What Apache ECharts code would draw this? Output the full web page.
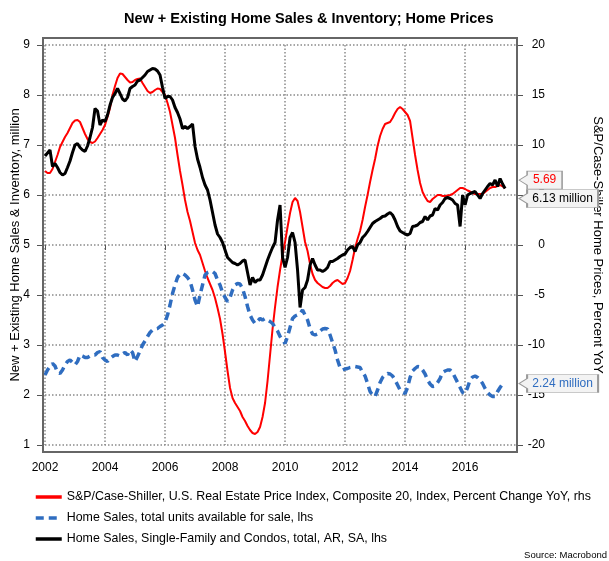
<!DOCTYPE html>
<html>
<head>
<meta charset="utf-8">
<title>Home Sales, Inventory and Home Prices</title>
<script src="https://cdn.jsdelivr.net/npm/echarts@6/dist/echarts.min.js"></script>
<style>
    html, body { margin: 0; padding: 0; background: #fff; }
    #home_sales { width: 609px; height: 561px; }
</style>
</head>
<body>
<div id="home_sales"></div>
<script>

// Chart data (monthly, Jan 2002 - May 2017)
// ------------------------------

var startYear = 2002;

// S&P/Case-Shiller 20 city, percent change YoY (rhs)
var priceYoY = [
    7.4, 7.2, 7.2, 7.6, 8.3, 9.0, 9.8, 10.3, 10.8, 11.2, 11.7, 12.2,          // 2002
    12.45, 12.5, 12.3, 11.7, 11.1, 10.6, 10.3, 10.2, 10.35, 10.7, 11.1, 11.5, // 2003
    12.0, 12.8, 13.7, 15.0, 15.9, 16.7, 17.15, 17.1, 16.8, 16.5, 16.25, 16.3, // 2004
    16.5, 16.6, 16.65, 16.2, 15.8, 15.4, 15.2, 15.3, 15.5, 15.65, 15.6, 15.3, // 2005
    15.0, 14.2, 13.3, 12.0, 10.7, 9.0, 7.4, 6.0, 4.5, 3.3, 2.4, 1.3,          // 2006
    0.2, -0.5, -1.0, -1.8, -2.6, -3.3, -3.9, -4.5, -5.3, -6.3, -7.4, -8.9,    // 2007
    -10.7, -12.6, -14.3, -15.3, -15.8, -16.2, -16.6, -17.2, -17.6, -18.1, -18.5, -18.8, // 2008
    -18.9, -18.7, -18.2, -17.2, -15.8, -13.6, -11.0, -8.4, -6.2, -4.2, -2.5, -1.0,      // 2009
    0.3, 1.8, 3.2, 4.3, 4.7, 4.4, 3.3, 1.8, 0.3, -0.6, -1.9, -2.9,            // 2010
    -3.5, -3.8, -4.0, -4.2, -4.3, -4.3, -4.1, -3.8, -3.6, -3.5, -3.7, -3.9,   // 2011
    -3.8, -3.3, -2.6, -1.5, -0.3, 0.6, 1.4, 2.5, 3.8, 5.0, 6.3, 7.5,          // 2012
    8.6, 9.9, 10.9, 11.6, 12.1, 12.2, 12.3, 12.7, 13.2, 13.6, 13.8, 13.6,     // 2013
    13.3, 13.0, 12.4, 10.7, 9.0, 7.5, 6.2, 5.3, 4.8, 4.4, 4.3, 4.6,           // 2014
    4.8, 5.0, 5.0, 4.9, 4.9, 4.95, 5.0, 5.1, 5.3, 5.5, 5.7, 5.7,              // 2015
    5.6, 5.45, 5.35, 5.2, 5.1, 5.1, 5.1, 5.1, 5.3, 5.5, 5.7, 5.8,             // 2016
    5.8, 5.9, 6.0, 5.85, 5.69                                                 // 2017
];

// Home sales, total units available for sale, million (lhs)
var inventory = [
    2.4, 2.5, 2.57, 2.63, 2.58, 2.45, 2.43, 2.5, 2.6, 2.67, 2.7, 2.65,        // 2002
    2.6, 2.67, 2.8, 2.78, 2.75, 2.75, 2.78, 2.8, 2.8, 2.85, 2.87, 2.75,       // 2003
    2.7, 2.67, 2.73, 2.77, 2.8, 2.8, 2.78, 2.82, 2.85, 2.8, 2.9, 2.85,        // 2004
    2.67, 2.77, 2.88, 3.0, 3.08, 3.17, 3.25, 3.3, 3.32, 3.33, 3.37, 3.4,      // 2005
    3.45, 3.6, 3.8, 4.03, 4.2, 4.35, 4.42, 4.43, 4.4, 4.35, 4.28, 4.1,        // 2006
    3.9, 3.77, 4.0, 4.2, 4.4, 4.45, 4.47, 4.47, 4.43, 4.3, 4.2, 4.05,         // 2007
    3.95, 3.87, 3.95, 4.1, 4.2, 4.23, 4.22, 4.13, 3.97, 3.77, 3.6, 3.5,       // 2008
    3.43, 3.48, 3.53, 3.5, 3.53, 3.5, 3.47, 3.43, 3.35, 3.28, 3.17, 3.1,      // 2009
    3.03, 3.17, 3.35, 3.53, 3.58, 3.6, 3.62, 3.7, 3.6, 3.5, 3.33, 3.22,       // 2010
    3.2, 3.22, 3.28, 3.32, 3.33, 3.32, 3.2, 3.05, 2.9, 2.7, 2.55, 2.5,        // 2011
    2.52, 2.53, 2.55, 2.56, 2.57, 2.56, 2.55, 2.45, 2.38, 2.23, 2.07, 2.0,    // 2012
    1.97, 2.1, 2.25, 2.35, 2.4, 2.43, 2.42, 2.38, 2.3, 2.2, 2.1, 2.05,        // 2013
    2.03, 2.15, 2.35, 2.48, 2.53, 2.57, 2.56, 2.5, 2.42, 2.3, 2.22, 2.17,     // 2014
    2.18, 2.25, 2.33, 2.45, 2.48, 2.5, 2.5, 2.45, 2.35, 2.25, 2.15, 2.05,     // 2015
    2.03, 2.15, 2.3, 2.36, 2.38, 2.35, 2.3, 2.23, 2.13, 2.05, 2.0, 1.97,      // 2016
    1.97, 2.07, 2.15, 2.22, 2.24                                              // 2017
];

// Home sales, single-family and condos, total, AR, SA, million (lhs)
var salesTotal = [
    6.78, 6.84, 6.9, 6.57, 6.63, 6.55, 6.45, 6.4, 6.43, 6.55, 6.68, 6.85,     // 2002
    7.0, 7.03, 6.95, 6.9, 6.87, 6.98, 7.15, 7.35, 7.73, 7.68, 7.4, 7.5,       // 2003
    7.47, 7.6, 7.8, 7.95, 8.03, 8.13, 8.03, 7.92, 7.88, 7.95, 8.13, 8.17,     // 2004
    8.2, 8.28, 8.3, 8.35, 8.4, 8.47, 8.5, 8.53, 8.52, 8.48, 8.4, 8.15,        // 2005
    7.93, 7.97, 7.97, 7.9, 7.75, 7.65, 7.52, 7.33, 7.37, 7.33, 7.37, 7.42,    // 2006
    6.97, 6.72, 6.55, 6.35, 6.2, 6.1, 5.9, 5.65, 5.4, 5.22, 5.15, 5.05,       // 2007
    4.9, 4.75, 4.7, 4.65, 4.63, 4.6, 4.63, 4.68, 4.7, 4.45, 4.2, 4.35,        // 2008
    4.25, 4.3, 4.3, 4.4, 4.55, 4.7, 4.83, 4.95, 5.05, 5.5, 5.8, 4.75,         // 2009
    4.55, 4.75, 5.15, 5.25, 5.05, 4.5, 3.75, 4.1, 4.15, 4.3, 4.6, 4.73,       // 2010
    4.6, 4.5, 4.5, 4.47, 4.5, 4.55, 4.67, 4.67, 4.7, 4.73, 4.77, 4.8,         // 2011
    4.82, 4.9, 4.95, 4.97, 4.87, 5.0, 5.05, 5.15, 5.2, 5.27, 5.35, 5.43,      // 2012
    5.47, 5.5, 5.53, 5.57, 5.58, 5.62, 5.65, 5.6, 5.5, 5.37, 5.28, 5.25,      // 2013
    5.22, 5.2, 5.23, 5.37, 5.38, 5.4, 5.45, 5.47, 5.57, 5.5, 5.58, 5.6,       // 2014
    5.73, 5.7, 5.8, 5.85, 5.93, 5.95, 5.93, 5.9, 5.83, 5.8, 5.37, 6.0,        // 2015
    5.8, 6.0, 6.03, 6.05, 6.07, 6.0, 5.93, 6.03, 6.1, 6.17, 6.23, 6.2,        // 2016
    6.3, 6.17, 6.33, 6.22, 6.13                                               // 2017
];

var seriesNames = [
    'S&P/Case-Shiller, U.S. Real Estate Price Index, Composite 20, Index, Percent Change YoY, rhs',
    'Home Sales, total units available for sale, lhs',
    'Home Sales, Single-Family and Condos, total, AR, SA, lhs'
];


// Setup module
// ------------------------------

var HomeSalesChart = function() {

    var font = '"Liberation Sans", Arial, sans-serif';
    var dotted = { color: '#8a8a8a', width: 1.5, type: [1.5, 2] };

    // month index -> decimal year
    var toPairs = function(values) {
        return values.map(function(v, i) {
            return [startYear + i / 12, v];
        });
    };

    // little call-out box with an arrow on the left
    var callout = function(w, h) {
        return 'path://M0,' + (h / 2) + 'L8,' + (h / 2 - 5) + 'L8,0L' + w + ',0L' + w + ',' + h +
            'L8,' + h + 'L8,' + (h / 2 + 5) + 'Z';
    };

    var endTag = function(values, text, color, w, dy) {
        var last = values.length - 1;
        return {
            silent: true,
            z: 50,
            symbol: callout(w, 18),
            symbolSize: [w, 18],
            symbolOffset: [14 + w / 2, dy],
            itemStyle: { color: '#f3f3f3', borderColor: '#9a9a9a', borderWidth: 1 },
            label: {
                show: true,
                position: 'inside',
                offset: [4, 0],
                formatter: text,
                color: color,
                fontSize: 12,
                fontFamily: font
            },
            data: [{ coord: [startYear + last / 12, values[last]] }]
        };
    };

    var _homeSalesChart = function() {
        if (typeof echarts == 'undefined') {
            console.warn('Warning - echarts.min.js is not loaded.');
            return;
        }

        var element = document.getElementById('home_sales');
        if (!element) return;

        var chart = echarts.init(element);

        chart.setOption({
            animation: false,
            textStyle: { fontFamily: font, fontSize: 12, color: '#000' },

            title: [{
                text: 'New + Existing Home Sales & Inventory; Home Prices',
                left: 124,
                top: 11,
                padding: 0,
                textStyle: { fontSize: 14.5, fontWeight: 'bold', color: '#000', fontFamily: font }
            }, {
                text: 'Source: Macrobond',
                right: 2,
                bottom: 1,
                padding: 0,
                textStyle: { fontSize: 9.5, fontWeight: 'normal', color: '#000', fontFamily: font }
            }],

            legend: {
                orient: 'vertical',
                left: 34,
                top: 491,
                padding: 0,
                itemWidth: 26,
                itemHeight: 12,
                itemGap: 9,
                data: seriesNames,
                itemStyle: { opacity: 0 },
                lineStyle: { width: 3.5 },
                textStyle: { fontSize: 12.4, color: '#000', fontFamily: font }
            },

            grid: { left: 45, right: 92, top: 45, bottom: 116, outerBoundsMode: 'none', containLabel: false },

            // outer frame of the plot
            graphic: [{
                type: 'rect',
                silent: true,
                z: 100,
                shape: { x: 43, y: 38, width: 474, height: 414 },
                style: { fill: 'transparent', stroke: '#666', lineWidth: 2 }
            }],

            xAxis: {
                type: 'value',
                min: 2002,
                max: 2017.73,
                interval: 2,
                offset: 7,
                axisLine: { show: false },
                axisTick: { show: true, length: 5, lineStyle: { color: '#555' } },
                axisLabel: {
                    margin: 10,
                    showMaxLabel: false,
                    color: '#000',
                    fontSize: 12,
                    formatter: function(v) { return String(v); }
                },
                splitLine: { show: true, lineStyle: dotted }
            },

            yAxis: [{
                type: 'value',
                position: 'left',
                min: 1,
                max: 9,
                interval: 1,
                offset: 2,
                name: 'New + Existing Home Sales & Inventory, million',
                nameLocation: 'middle',
                nameGap: 21,
                nameMoveOverlap: false,
                nameTextStyle: { fontSize: 13, color: '#000', fontFamily: font },
                axisLine: { show: false },
                axisTick: { show: true, length: 6, lineStyle: { color: '#555' } },
                axisLabel: { margin: 13, color: '#000', fontSize: 12 },
                splitLine: { show: true, lineStyle: dotted }
            }, {
                type: 'value',
                position: 'right',
                min: -20,
                max: 20,
                interval: 5,
                name: 'S&P/Case-Shiller Home Prices, Percent YoY',
                nameLocation: 'middle',
                nameRotate: -90,
                nameGap: 74,
                nameMoveOverlap: false,
                nameTextStyle: { fontSize: 13, color: '#000', fontFamily: font },
                axisLine: { show: false },
                axisTick: { show: true, length: 6, lineStyle: { color: '#555' } },
                axisLabel: { margin: 28, align: 'right', color: '#000', fontSize: 12 },
                splitLine: { show: false }
            }],

            series: [{
                name: seriesNames[0],
                type: 'line',
                yAxisIndex: 1,
                symbol: 'none',
                color: '#ff0000',
                lineStyle: { color: '#ff0000', width: 2 },
                data: toPairs(priceYoY),
                markPoint: endTag(priceYoY, priceYoY[priceYoY.length - 1].toFixed(2), '#ff0000', 43, -8)
            }, {
                name: seriesNames[1],
                type: 'line',
                yAxisIndex: 0,
                symbol: 'none',
                color: '#2f6dc0',
                lineStyle: { color: '#2f6dc0', width: 3.5, type: [8, 5] },
                data: toPairs(inventory),
                markPoint: endTag(inventory, inventory[inventory.length - 1].toFixed(2) + ' million', '#2f6dc0', 79, 0.5)
            }, {
                name: seriesNames[2],
                type: 'line',
                yAxisIndex: 0,
                symbol: 'none',
                color: '#000',
                lineStyle: { color: '#000', width: 3 },
                data: toPairs(salesTotal),
                markPoint: endTag(salesTotal, salesTotal[salesTotal.length - 1].toFixed(2) + ' million', '#000', 79, 10)
            }]
        });
    };

    return {
        init: function() {
            _homeSalesChart();
        }
    };
}();


// Initialize module
// ------------------------------

document.addEventListener('DOMContentLoaded', function() {
    HomeSalesChart.init();
});
</script>
</body>
</html>
